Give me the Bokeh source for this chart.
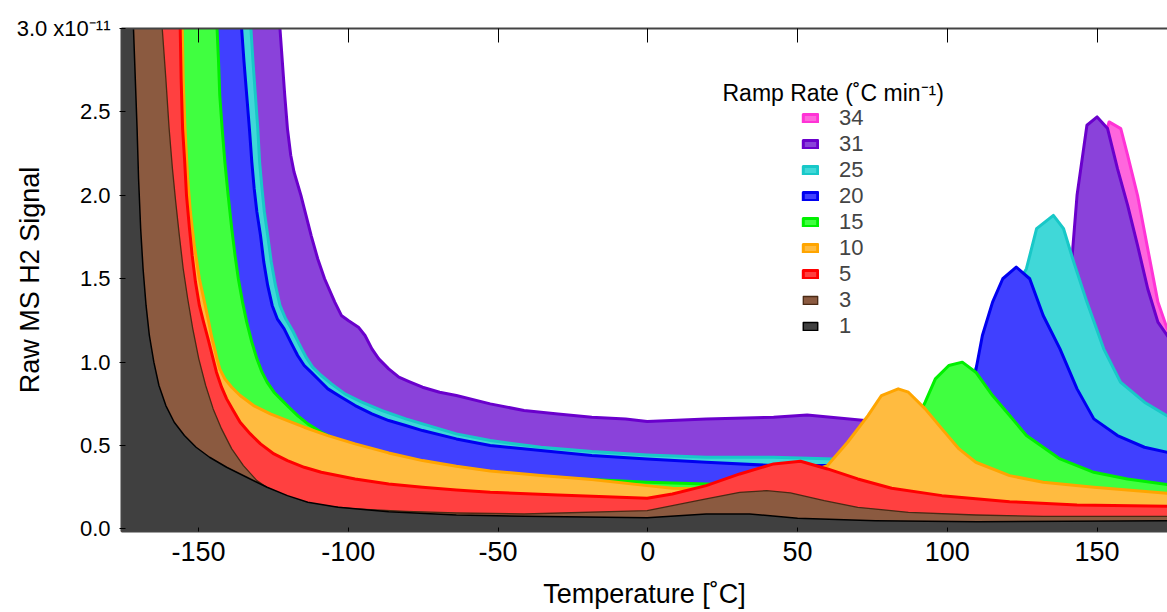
from bokeh.plotting import figure
from bokeh.models import (Range1d, LinearAxis, FixedTicker, PrintfTickFormatter,
                          Legend, LegendItem, Label)
from bokeh.embed import file_html
from bokeh.resources import INLINE

# ---------------- data (signal in units of 1e-11) ----------------
ramp_labels = ["34", "31", "25", "20", "15", "10", "5", "3", "1"]

temp_34 = [-176, -124, -120, -110, -100, -80, -50, -3, 50, 100, 130, 145, 150, 154, 157.9, 160.2, 163.5, 166.9, 170.3, 173.4, 176]
sig_34 = [7.0, 3.0, 2.2, 1.35, 1.1, 0.8, 0.66, 0.58, 0.58, 0.58, 0.9, 1.6, 2.2, 2.44, 2.4, 2.24, 2.0, 1.68, 1.36, 1.2, 1.15]

temp_31 = [-176, -122.8, -122.0, -121.2, -120.3, -119.2, -118.1, -115.8, -114.1, -112.4, -110.2, -107.9, -104.5, -102.3, -100.0, -96.6, -94.4, -92.1, -89.8, -86.5, -83.1, -79.7, -75.2, -69.5, -63.9, -52.6, -41.3, -30.0, -18.7, -7.4, -0.2,
           19.5, 42, 53.2, 69, 90, 110, 125, 135, 141.6, 143.3, 146.6, 150, 153.5, 156.8, 160.2, 163.5, 166.9, 170.3, 173.4, 176]
sig_31 = [7.0, 3.0, 2.8, 2.6, 2.4, 2.24, 2.14, 2.0, 1.88, 1.76, 1.62, 1.5, 1.36, 1.28, 1.25, 1.21, 1.16, 1.08, 1.02, 0.96, 0.91, 0.884, 0.85, 0.82, 0.80, 0.75, 0.71, 0.69, 0.67, 0.66, 0.644,
          0.66, 0.67, 0.684, 0.656, 0.62, 0.7, 0.9, 1.2, 1.62, 2.0, 2.42, 2.47, 2.4, 2.16, 1.94, 1.7, 1.44, 1.24, 1.16, 1.1]

temp_25 = [-176, -132.5, -131.8, -131.0, -130.2, -129.6, -128.8, -128.0, -126.9, -125.7, -124.3, -122.8, -120.9, -118.6, -116.4, -114.1, -111.9, -109.0, -105.6, -101.1, -95.5, -88.7, -80.8, -75.2, -63.9, -52.6, -35.7, -18.7, -0.2,
           19.5, 42, 62.2, 80, 100, 115, 126.4, 129.8, 135.4, 138.8, 142.2, 146.6, 152.2, 157.8, 165.8, 176]
sig_25 = [6.0, 3.0, 2.8, 2.6, 2.4, 2.2, 2.04, 1.9, 1.76, 1.6, 1.46, 1.34, 1.26, 1.19, 1.11, 1.03, 0.97, 0.92, 0.87, 0.81, 0.76, 0.71, 0.66, 0.63, 0.57, 0.53, 0.49, 0.464, 0.444,
          0.43, 0.43, 0.42, 0.42, 0.55, 1.2, 1.56, 1.8, 1.88, 1.8, 1.6, 1.36, 1.08, 0.88, 0.76, 0.65]

temp_20 = [-176, -135.6, -134.8, -133.9, -133.0, -132.2, -131.4, -130.5, -129.3, -128.2, -126.9, -125.4, -123.7, -121.4, -119.2, -116.9, -114.7, -112.4, -109.6, -106.8, -102.3, -97.7, -92.1, -86.5, -80.8, -75.2, -63.9, -52.6, -35.7, -18.7, -0.2,
           19.5, 42, 64.5, 87, 100, 109.5, 111.7, 115.1, 118.5, 123, 127.5, 132, 137.6, 143.3, 148.9, 156.8, 165.8, 176]
sig_20 = [6.0, 3.0, 2.8, 2.6, 2.4, 2.2, 2.04, 1.9, 1.76, 1.6, 1.46, 1.34, 1.26, 1.2, 1.12, 1.04, 0.98, 0.94, 0.89, 0.84, 0.79, 0.74, 0.69, 0.65, 0.62, 0.59, 0.54, 0.50, 0.47, 0.44, 0.42,
          0.40, 0.38, 0.38, 0.40, 0.55, 0.95, 1.16, 1.36, 1.5, 1.57, 1.5, 1.28, 1.08, 0.84, 0.66, 0.56, 0.49, 0.45]

temp_15 = [-176, -143.8, -143.3, -142.9, -142.1, -141.2, -140.1, -138.9, -137.8, -136.7, -135.3, -133.9, -132.2, -130.5, -128.8, -127.1, -124.8, -122.6, -119.8, -116.9, -113.5, -109.0, -103.4, -97.7, -88.7, -80.8, -69.5, -58.2, -41.3, -18.7, -0.2,
           19.5, 42, 64.5, 75, 85, 92.6, 96, 100.5, 105, 109.5, 115.1, 120.8, 126.4, 137.6, 148.9, 160.1, 176]
sig_15 = [5.5, 3.0, 2.8, 2.6, 2.4, 2.2, 2.0, 1.8, 1.64, 1.5, 1.36, 1.24, 1.12, 1.02, 0.94, 0.88, 0.82, 0.78, 0.73, 0.68, 0.63, 0.58, 0.53, 0.49, 0.44, 0.404, 0.37, 0.344, 0.316, 0.296, 0.28,
          0.27, 0.26, 0.27, 0.3, 0.5, 0.76, 0.9, 0.98, 1.0, 0.94, 0.8, 0.68, 0.56, 0.42, 0.34, 0.30, 0.26]

temp_10 = [-176, -155.4, -155.1, -154.5, -153.6, -152.7, -151.4, -149.7, -148.0, -146.8, -145.7, -144.6, -143.8, -142.9, -141.2, -138.9, -136.1, -131.6, -126.0, -120.3, -114.7, -106.8, -97.7, -86.5, -75.2, -63.9, -52.6, -35.7, -18.7, -0.2,
           8.2, 19.5, 40, 60, 66.7, 73.5, 78, 83.6, 87, 92.6, 98.2, 103.9, 109.5, 120.8, 132, 148.9, 176]
sig_10 = [5.0, 3.0, 2.7, 2.4, 2.1, 1.9, 1.7, 1.5, 1.36, 1.26, 1.16, 1.08, 1.02, 0.96, 0.9, 0.85, 0.8, 0.74, 0.69, 0.65, 0.61, 0.56, 0.51, 0.456, 0.41, 0.376, 0.348, 0.32, 0.296, 0.26,
          0.244, 0.24, 0.26, 0.38, 0.52, 0.68, 0.8, 0.84, 0.82, 0.72, 0.6, 0.48, 0.4, 0.32, 0.28, 0.25, 0.21]

temp_5 = [-176, -156.1, -155.8, -155.3, -154.6, -154.0, -153.0, -152.1, -151.0, -149.7, -148.3, -146.8, -145.4, -144.0, -142.3, -140.6, -138.4, -136.1, -132.7, -129.3, -124.8, -120.3, -114.7, -109.0, -97.7, -86.5, -75.2, -63.9, -52.6, -30.0, -0.2,
          8.2, 19.5, 30.7, 42.0, 51.0, 60.0, 70.1, 81.4, 98.2, 120.8, 143.3, 176]
sig_5 = [5.0, 3.0, 2.7, 2.4, 2.2, 2.0, 1.8, 1.64, 1.48, 1.34, 1.24, 1.14, 1.04, 0.94, 0.85, 0.78, 0.71, 0.64, 0.57, 0.51, 0.45, 0.41, 0.37, 0.34, 0.30, 0.27, 0.25, 0.234, 0.22, 0.204, 0.184,
         0.21, 0.26, 0.33, 0.39, 0.406, 0.36, 0.30, 0.244, 0.2, 0.164, 0.144, 0.136]

temp_3 = [-176, -162.1, -160.9, -159.8, -158.7, -157.6, -156.4, -155.1, -153.6, -151.9, -149.9, -147.6, -145.1, -142.3, -138.9, -135.0, -130.5, -124.8, -116.9, -109.0, -97.7, -80.8, -63.9, -41.3, -0.2,
          8.2, 19.5, 30.7, 39.7, 47.6, 58.9, 70.1, 87, 109.5, 132, 176]
sig_3 = [4.5, 3.0, 2.7, 2.4, 2.16, 1.96, 1.76, 1.56, 1.38, 1.2, 1.02, 0.86, 0.72, 0.6, 0.48, 0.38, 0.29, 0.22, 0.17, 0.14, 0.12, 0.106, 0.096, 0.09, 0.11,
         0.14, 0.18, 0.22, 0.23, 0.216, 0.17, 0.13, 0.10, 0.084, 0.076, 0.076]

temp_1 = [-176, -171.7, -171.1, -170.5, -170.0, -169.3, -168.5, -167.5, -166.4, -164.9, -163.2, -160.9, -158.1, -154.7, -150.8, -146.3, -140.6, -133.9, -127.1, -120.3, -113.5, -103.4, -86.5, -63.9, -41.3, -0.2,
          19.5, 34, 50, 76, 110, 176]
sig_1 = [4.0, 3.0, 2.7, 2.4, 2.1, 1.8, 1.56, 1.34, 1.16, 1.0, 0.86, 0.74, 0.64, 0.56, 0.49, 0.43, 0.37, 0.31, 0.25, 0.2, 0.16, 0.13, 0.104, 0.084, 0.076, 0.068,
         0.09, 0.09, 0.064, 0.05, 0.044, 0.05]

series_temps = [temp_34, temp_31, temp_25, temp_20, temp_15, temp_10, temp_5, temp_3, temp_1]
series_sigs = [sig_34, sig_31, sig_25, sig_20, sig_15, sig_10, sig_5, sig_3, sig_1]

fill_colors = ["#FF66DD", "#8A42DA", "#40D8D8", "#4040FF", "#40FF40", "#FFBB40", "#FF4040", "#8B5A40", "#404040"]
line_colors = ["#FF33D6", "#6A00CC", "#18C8C8", "#0000F0", "#00F000", "#FFA500", "#FF0000", "#4A2A14", "#000000"]
line_widths = [3, 3, 3, 3, 3, 3, 3, 1.3, 1.5]

x_ticks = [-150, -100, -50, 0, 50, 100, 150]
y_ticks = [0.0, 0.5, 1.0, 1.5, 2.0, 2.5, 3.0]

FONT = "Liberation Sans"
BASELINE = -0.1  # closes each filled area below the visible range

p = figure(width=1167, height=612, output_backend="svg", toolbar_location=None,
           x_range=Range1d(-175.7, 173.5), y_range=Range1d(-0.015, 3.0),
           min_border_left=121, min_border_right=0, min_border_top=28, min_border_bottom=81)
p.grid.visible = False
p.outline_line_color = None
p.background_fill_color = "white"
p.border_fill_color = "white"

renderers = []
for t, s, fc, lc, lw in zip(series_temps, series_sigs, fill_colors, line_colors, line_widths):
    xs = [t[0]] + list(t) + [t[-1]]
    ys = [BASELINE] + list(s) + [BASELINE]
    r = p.patch(xs, ys, fill_color=fc, line_color=lc, line_width=lw, line_join="round")
    renderers.append(r)

# axes
xa = p.xaxis[0]
xa.ticker = FixedTicker(ticks=x_ticks)
xa.formatter = PrintfTickFormatter(format="%d")
xa.major_label_text_font = FONT
xa.major_label_text_font_size = "27px"
xa.major_label_text_color = "black"
xa.major_label_standoff = 10
xa.major_tick_in = 4
xa.major_tick_out = 0
xa.minor_tick_line_color = None
xa.axis_line_color = "#444444"
xa.axis_line_width = 2
xa.major_tick_line_color = "black"
xa.axis_label = "Temperature [˚C]"
xa.axis_label_text_font = FONT
xa.axis_label_text_font_size = "27px"
xa.axis_label_text_font_style = "normal"
xa.axis_label_text_color = "black"
xa.axis_label_standoff = 15

ya = p.yaxis[0]
ya.ticker = FixedTicker(ticks=y_ticks)
ya.formatter = PrintfTickFormatter(format="%.1f")
ya.major_label_overrides = {3.0: "3.0 x10⁻¹¹"}
ya.major_label_text_font = FONT
ya.major_label_text_font_size = "22px"
ya.major_label_text_color = "black"
ya.major_label_standoff = 9
ya.major_tick_in = 4
ya.major_tick_out = 2
ya.minor_tick_line_color = None
ya.axis_line_color = "#444444"
ya.axis_line_width = 2
ya.major_tick_line_color = "black"
ya.axis_label = "Raw MS H2 Signal"
ya.axis_label_text_font = FONT
ya.axis_label_text_font_size = "27px"
ya.axis_label_text_font_style = "normal"
ya.axis_label_text_color = "black"
ya.axis_label_standoff = -31

top = LinearAxis(ticker=FixedTicker(ticks=x_ticks), major_label_text_font_size="1px",
                 major_label_text_color=None,
                 major_tick_in=14, major_tick_out=0, minor_tick_line_color=None,
                 axis_line_color="#444444", axis_line_width=2, major_tick_line_color="black",
                 major_label_standoff=0)
p.add_layout(top, "above")

# legend
items = [LegendItem(label=lab, renderers=[r]) for lab, r in zip(ramp_labels, renderers)]
legend = Legend(items=items, location=(680, 192), glyph_width=18, glyph_height=10,
                label_standoff=20, label_text_font=FONT, label_text_font_size="22px",
                spacing=0, padding=0, margin=0, border_line_color=None,
                background_fill_alpha=0)
p.add_layout(legend, "center")
p.add_layout(Label(x=601, y=439, x_units="screen", y_units="screen",
                   text="Ramp Rate (˚C min⁻¹)", text_align="left", text_baseline="middle",
                   text_font=FONT, text_font_size="23px", text_color="black"))

open("out.html", "w").write(file_html(p, INLINE))
